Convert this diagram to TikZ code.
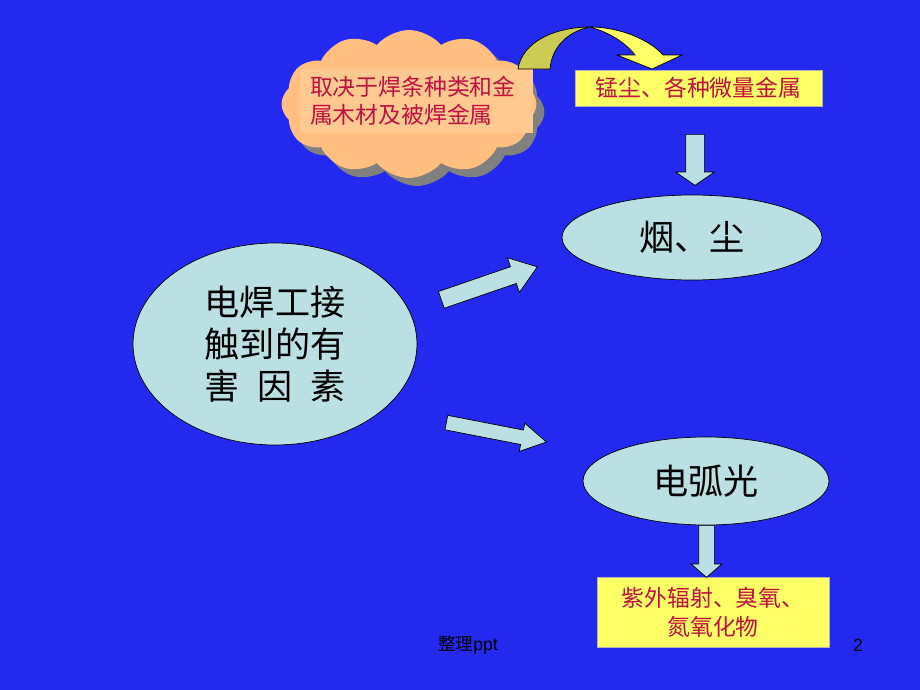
\documentclass[tikz,border=0pt]{standalone}
\usepackage{fontspec}
\setmainfont{Liberation Sans}
\newfontfamily\cjk{Noto Sans CJK SC}
\usepackage{tikz}
\usetikzlibrary{shapes.geometric,shapes.symbols,shapes.arrows,shadows}
\definecolor{SlideBlue}{HTML}{2329EE}
\definecolor{PaleCyan}{HTML}{BBE0E3}
\definecolor{NoteYellow}{HTML}{FFFF66}
\definecolor{CloudOrange}{HTML}{FFBF80}
\definecolor{NoteOrange}{HTML}{FFC990}
\definecolor{NoteRed}{HTML}{C01040}
\definecolor{Olive}{HTML}{CCCC55}

\begin{document}
\begin{tikzpicture}[x=0.02cm, y=-0.02cm,
                    bubble/.style={ellipse, draw=black, thin, fill=PaleCyan, inner sep=0pt,
                                   font=\cjk\fontsize{20}{24}\selectfont, align=center},
                    notebox/.style={draw=gray!60, fill=NoteYellow, text=NoteRed, inner sep=0pt,
                                    font=\cjk\fontsize{13}{16.5}\selectfont, align=center},
                    blockarrow/.style={single arrow, draw=black, thin, fill=PaleCyan, inner xsep=0pt,
                                       anchor=tail}]
  \fill[SlideBlue] (0,0) rectangle (920,690);
  \useasboundingbox (0,0) rectangle (920,690);

  % the cloud with its note
  \node[cloud, cloud puffs=12, cloud puff arc=100, fill=CloudOrange, inner sep=0pt,
        minimum width=5.1cm, minimum height=2.96cm,
        drop shadow={shadow xshift=0.16cm, shadow yshift=-0.16cm, fill=gray, opacity=1}]
        (cloud) at (409,104) {};
  \node[fill=NoteOrange, text=NoteRed, text width=4.26cm, align=left, inner xsep=0.2cm,
        inner ysep=0pt, minimum height=1.28cm, font=\cjk\fontsize{13}{16}\selectfont]
        (source) at (416.5,101) {取决于焊条种类和金\\属木材及被焊金属};

  \node[notebox, minimum width=4.94cm, minimum height=0.72cm] (dust) at (698.5,88) {锰尘、各种微量金属};
  \node[bubble, minimum width=5.2cm, minimum height=1.7cm] (smoke) at (692,237.5) {烟、尘};
  \node[bubble, minimum width=5.68cm, minimum height=4.04cm] (hazard) at (275,344)
        {电焊工接\\触到的有\\害\enspace 因\enspace 素};
  \node[bubble, minimum width=4.92cm, minimum height=1.76cm] (arc) at (706,481) {电弧光};
  \node[notebox, minimum width=4.64cm, minimum height=1.4cm] (uv) at (713,612)
        {紫外辐射、臭氧、\\氮氧化物};

  % curved arrow from the cloud to the dust note
  \filldraw[fill=Olive, draw=black, thin] (518,69) .. controls (522,42) and (555,27) .. (590,27)
        .. controls (570,31) and (552,45) .. (550,69) -- cycle;
  \filldraw[fill=NoteYellow, draw=black, thin] (590,27) .. controls (620,27) and (650,40) .. (663,55)
        -- (682,55) -- (652,69) -- (617,55) -- (635,55) .. controls (625,42) and (608,32) .. (590,27);

  % block arrows
  \node[blockarrow, rotate=-90, minimum height=1.02cm, inner ysep=0.18cm,
        single arrow head extend=0.2cm, single arrow tip angle=111] (a1) at (695,134) {};
  \node[blockarrow, rotate=19, minimum height=2.03cm, inner ysep=0.17cm,
        single arrow head extend=0.19cm, single arrow tip angle=72] (a2) at (441,300) {};
  \node[blockarrow, rotate=-11, minimum height=2.04cm, inner ysep=0.14cm,
        single arrow head extend=0.14cm, single arrow tip angle=60] (a3) at (446,422.5) {};
  \node[blockarrow, rotate=-90, minimum height=1.04cm, inner ysep=0.15cm,
        single arrow head extend=0.15cm, single arrow tip angle=98] (a4) at (706.5,525) {};

  % footer
  \node[font=\fontsize{10}{12}\selectfont] (foot) at (468,645) {{\cjk 整理}ppt};
  \node[font=\fontsize{10}{12}\selectfont] (page) at (858,645) {2};
\end{tikzpicture}
\end{document}
